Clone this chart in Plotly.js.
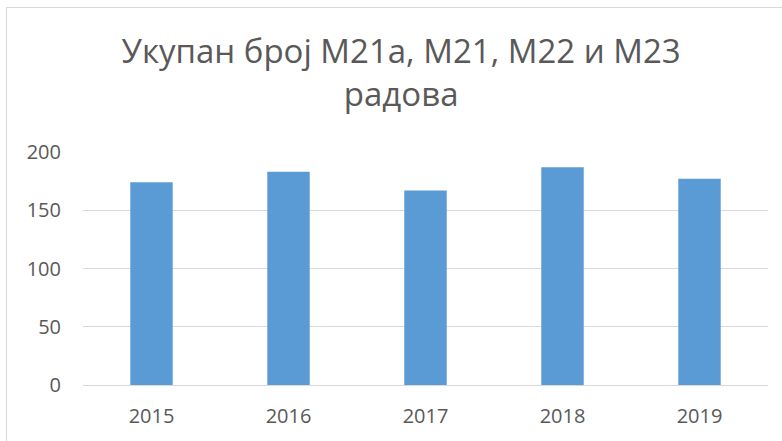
<!DOCTYPE html>
<html><head><meta charset="utf-8">
<script src="https://cdn.plot.ly/plotly-3.0.1.min.js"></script>
<style>
html,body{margin:0;padding:0;background:#fff;}
#wrap{position:relative;width:782px;height:441px;overflow:hidden;}
#chart{width:782px;height:441px;}
#frame{position:absolute;left:6px;top:7px;width:790px;height:450px;border:1px solid #d9d9d9;pointer-events:none;}
</style></head>
<body>
<div id="wrap"><div id="chart"></div><div id="frame"></div></div>
<script>
const years = ['2015','2016','2017','2018','2019'];
const papers = [174, 183, 167, 187, 177];
const yTicks = [0, 50, 100, 150, 200];

Plotly.newPlot('chart', [{
  type: 'bar',
  x: years,
  y: papers,
  marker: {color: '#5b9bd5'},
  hoverinfo: 'x+y'
}], {
  width: 782, height: 441,
  margin: {l: 83, r: 14, t: 152, b: 56},
  paper_bgcolor: 'rgba(0,0,0,0)', plot_bgcolor: 'rgba(0,0,0,0)',
  bargap: 0.69,
  title: {
    text: 'Укупан број М21а, М21, М22 и М23<br>радова',
    font: {family: 'Open Sans, sans-serif', size: 33, color: '#595959'},
    x: 0.513, xanchor: 'center', y: 0.857, yanchor: 'top'
  },
  xaxis: {
    type: 'category',
    tickfont: {family: 'Open Sans, sans-serif', size: 20, color: '#595959'},
    showline: false, ticks: '', showgrid: false, ticklabelstandoff: 17
  },
  yaxis: {
    range: [0, 200],
    tickvals: yTicks,
    tickfont: {family: 'Open Sans, sans-serif', size: 20, color: '#595959'},
    gridcolor: '#d9d9d9', gridwidth: 1,
    zeroline: true, zerolinecolor: '#d9d9d9', zerolinewidth: 1,
    showline: false, ticks: '', ticklabelstandoff: 21
  },
  showlegend: false
}, {displayModeBar: false, staticPlot: true});
</script>
</body></html>
